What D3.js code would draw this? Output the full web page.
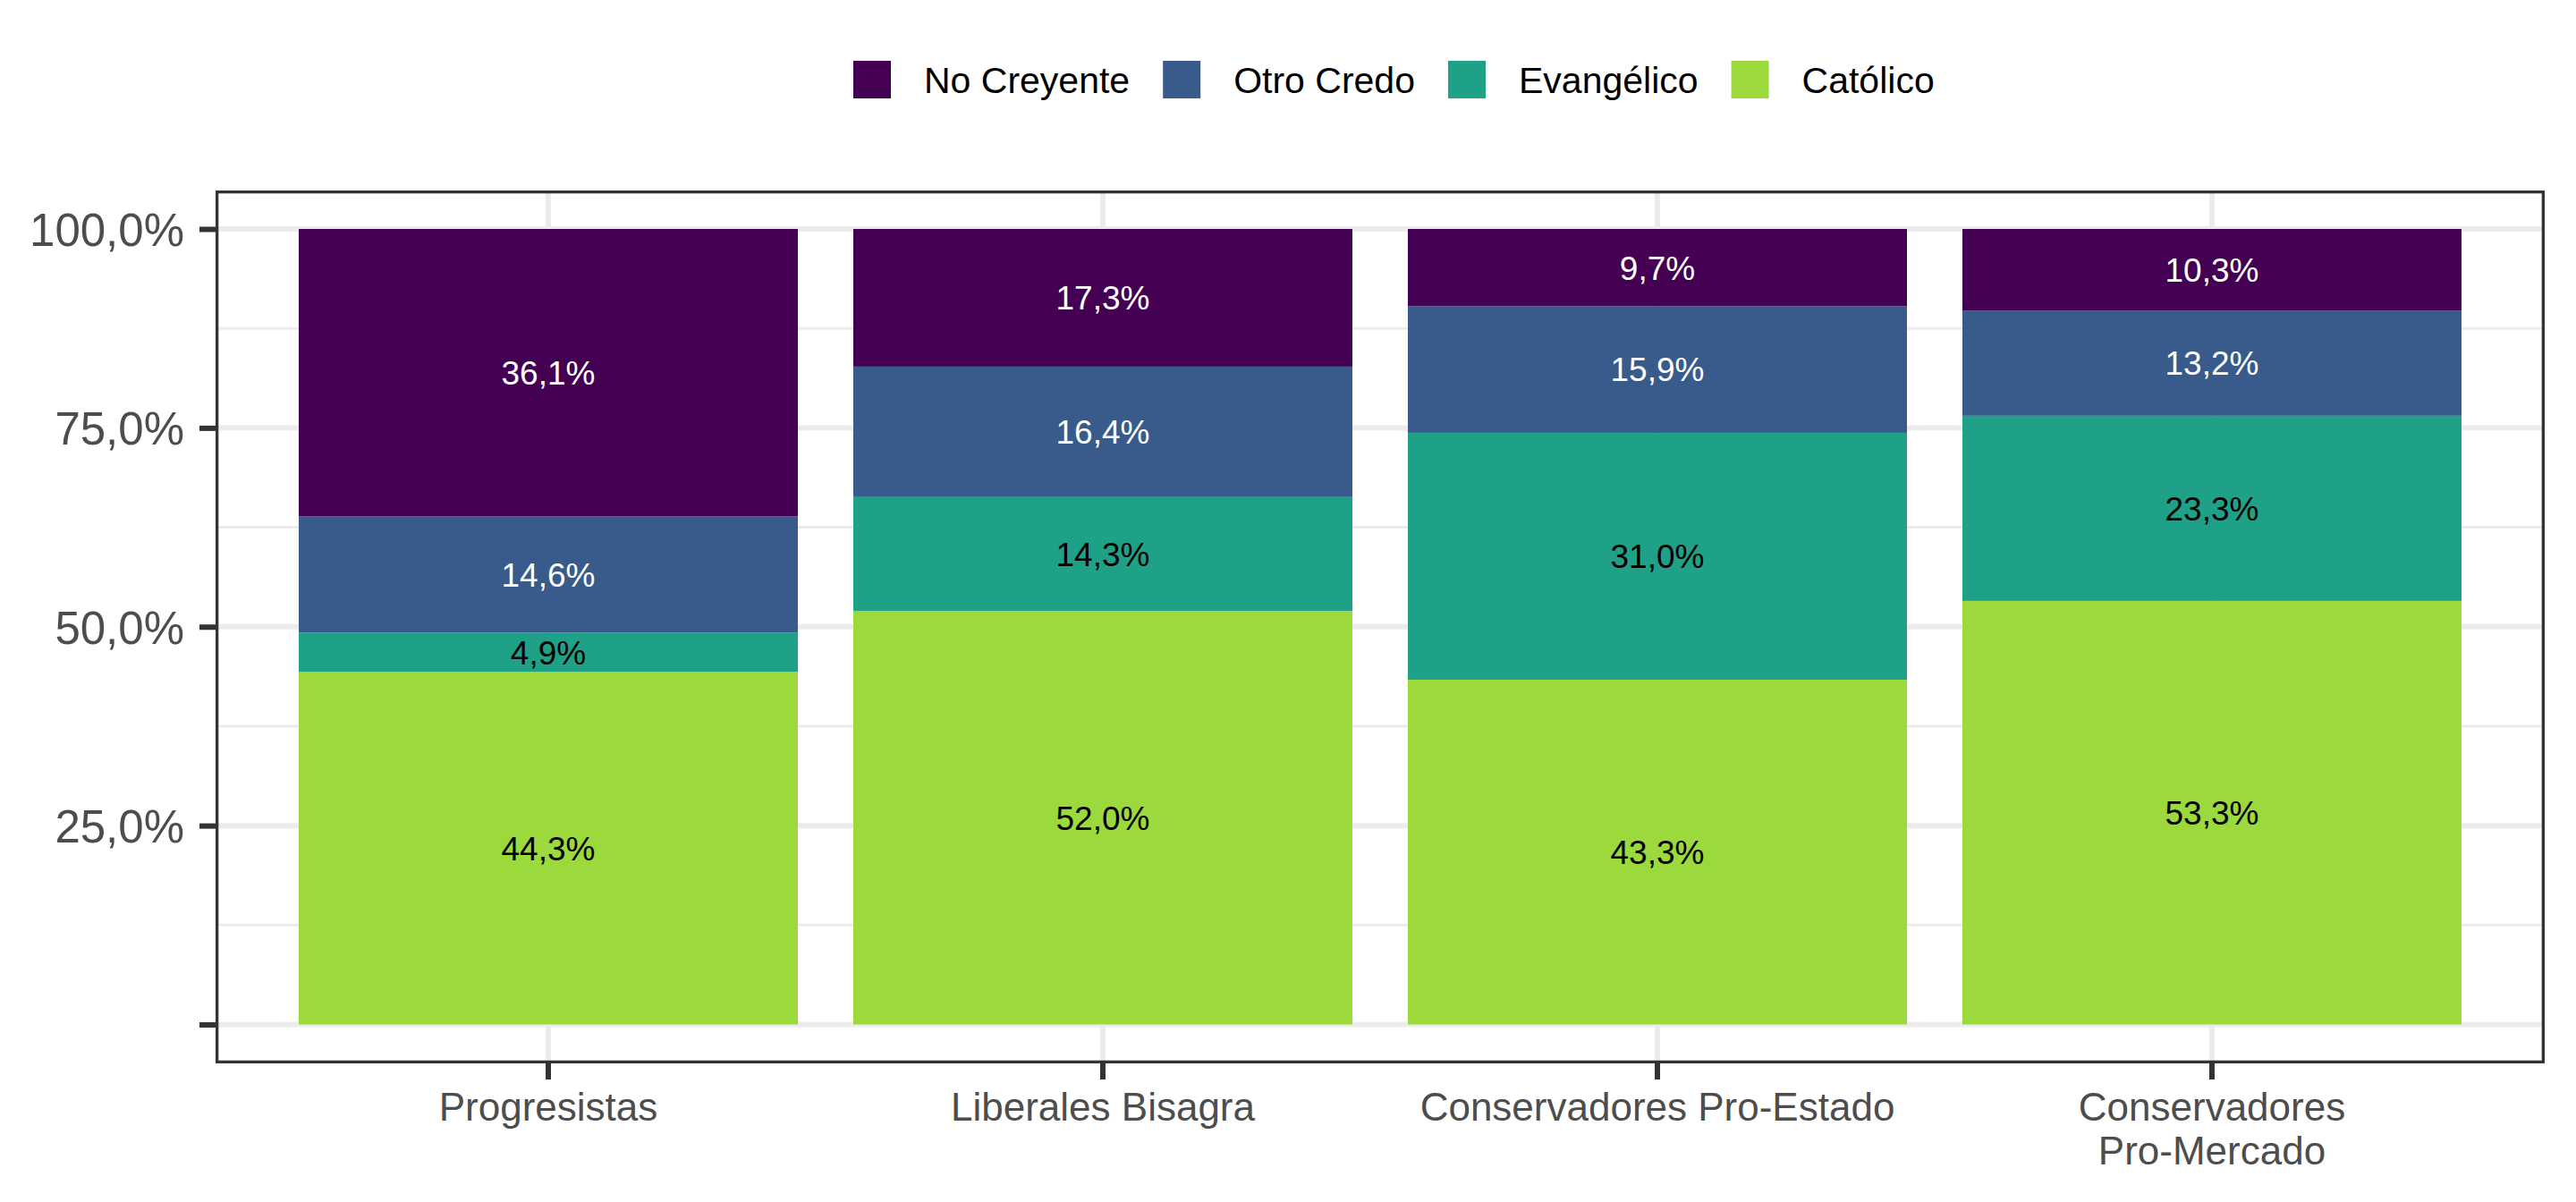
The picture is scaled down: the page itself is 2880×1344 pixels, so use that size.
<!DOCTYPE html>
<html>
<head>
<meta charset="utf-8">
<script src="https://cdn.jsdelivr.net/npm/d3@7"></script>
<style>
  body { margin: 0; background: #fff; }
  text { font-family: "Liberation Sans", Arial, sans-serif; }
</style>
</head>
<body>
<script>

// Data (percent)
var categories = ["Progresistas", "Liberales Bisagra", "Conservadores Pro-Estado", "Conservadores Pro-Mercado"];
var categoryLines = [["Progresistas"], ["Liberales Bisagra"], ["Conservadores Pro-Estado"], ["Conservadores", "Pro-Mercado"]];
var series = ["Católico", "Evangélico", "Otro Credo", "No Creyente"];   // bottom to top
var legendOrder = ["No Creyente", "Otro Credo", "Evangélico", "Católico"];
var catolico   = [44.3, 52.0, 43.3, 53.3];
var evangelico = [4.9, 14.3, 31.0, 23.3];
var otroCredo  = [14.6, 16.4, 15.9, 13.2];
var noCreyente = [36.1, 17.3, 9.7, 10.3];
var yTicks      = [0, 0.25, 0.5, 0.75, 1];
var yTickLabels = ["", "25,0%", "50,0%", "75,0%", "100,0%"];
var yMinor      = [0.125, 0.375, 0.625, 0.875];

var colors = {
    "No Creyente": "#440154",
    "Otro Credo":  "#385B8C",
    "Evangélico":  "#1FA187",
    "Católico":    "#9BD93C"
};
var labelColors = {
    "No Creyente": "#ffffff",
    "Otro Credo":  "#ffffff",
    "Evangélico":  "#000000",
    "Católico":    "#000000"
};

// build rows for the stack
var valuesBySeries = {
    "Católico": catolico,
    "Evangélico": evangelico,
    "Otro Credo": otroCredo,
    "No Creyente": noCreyente
};
var rows = categories.map(function (c, i) {
    var r = { cat: c };
    series.forEach(function (s) { r[s] = valuesBySeries[s][i]; });
    return r;
});

var stacked = d3.stack().keys(series).offset(d3.stackOffsetExpand)(rows);

// Layout
var W = 2880, H = 1344;
var panel = { left: 241, right: 2845, top: 213, bottom: 1189 };

var x = d3.scaleBand()
    .domain(categories)
    .range([panel.left, panel.right])
    .paddingInner(0.1)
    .paddingOuter(0.15);

var y = d3.scaleLinear()
    .domain([0, 1])
    .range([1145.5, 256]);

var locale = d3.formatLocale({ decimal: ",", thousands: ".", grouping: [3], currency: ["", ""] });
var fmt = locale.format(".1f");

var svg = d3.select("body").append("svg")
    .attr("width", W)
    .attr("height", H);

// Grid
var grid = svg.append("g");
grid.selectAll(".minor").data(yMinor).enter().append("line")
    .attr("x1", panel.left).attr("x2", panel.right)
    .attr("y1", function (d) { return y(d); })
    .attr("y2", function (d) { return y(d); })
    .attr("stroke", "#EBEBEB").attr("stroke-width", 3);
grid.selectAll(".major").data(yTicks).enter().append("line")
    .attr("x1", panel.left).attr("x2", panel.right)
    .attr("y1", function (d) { return y(d); })
    .attr("y2", function (d) { return y(d); })
    .attr("stroke", "#EBEBEB").attr("stroke-width", 6);
grid.selectAll(".vmajor").data(categories).enter().append("line")
    .attr("y1", panel.top).attr("y2", panel.bottom)
    .attr("x1", function (d) { return x(d) + x.bandwidth() / 2; })
    .attr("x2", function (d) { return x(d) + x.bandwidth() / 2; })
    .attr("stroke", "#EBEBEB").attr("stroke-width", 6);

// Bars
var layers = svg.append("g").selectAll("g")
    .data(stacked).enter().append("g")
    .attr("fill", function (d) { return colors[d.key]; });

layers.selectAll("rect")
    .data(function (d) { return d; })
    .enter().append("rect")
    .attr("x", function (d) { return x(d.data.cat); })
    .attr("width", x.bandwidth())
    .attr("y", function (d) { return y(d[1]); })
    .attr("height", function (d) { return y(d[0]) - y(d[1]); });

// Labels
var labels = svg.append("g");
stacked.forEach(function (layer) {
    labels.selectAll(null)
        .data(layer).enter().append("text")
        .attr("x", function (d) { return x(d.data.cat) + x.bandwidth() / 2; })
        .attr("y", function (d) { return y((d[0] + d[1]) / 2); })
        .attr("dy", "0.36em")
        .attr("text-anchor", "middle")
        .attr("font-size", 37)
        .attr("fill", labelColors[layer.key])
        .text(function (d) { return fmt(d.data[layer.key]) + "%"; });
});

// Panel border
svg.append("rect")
    .attr("x", panel.left + 1.65).attr("y", panel.top + 1.65)
    .attr("width", panel.right - panel.left - 3.3)
    .attr("height", panel.bottom - panel.top - 3.3)
    .attr("fill", "none")
    .attr("stroke", "#333333")
    .attr("stroke-width", 3.3);

// Axes
var yAxis = svg.append("g")
    .attr("transform", "translate(" + panel.left + ",0)")
    .call(d3.axisLeft(y)
        .tickValues(yTicks)
        .tickSize(18)
        .tickPadding(17)
        .tickFormat(function (d, i) { return yTickLabels[i]; }));
yAxis.select(".domain").remove();
yAxis.selectAll("line").attr("stroke", "#333333").attr("stroke-width", 6);
yAxis.selectAll("text")
    .attr("font-size", 51)
    .attr("font-family", "Liberation Sans, Arial, sans-serif")
    .attr("fill", "#4D4D4D")
    .attr("dy", "0.36em");

var xAxis = svg.append("g")
    .attr("transform", "translate(0," + panel.bottom + ")")
    .call(d3.axisBottom(x).tickSize(18).tickPadding(15));
xAxis.select(".domain").remove();
xAxis.selectAll("line").attr("stroke", "#333333").attr("stroke-width", 6);
xAxis.selectAll("text")
    .attr("font-size", 44)
    .attr("font-family", "Liberation Sans, Arial, sans-serif")
    .attr("fill", "#4D4D4D")
    .each(function (d, i) {
        var t = d3.select(this);
        t.text(null);
        categoryLines[i].forEach(function (line, j) {
            t.append("tspan")
                .attr("x", 0)
                .attr("dy", j === 0 ? "0.71em" : "49px")
                .text(line);
        });
    });
xAxis.selectAll("text").attr("dy", null);

// Legend
var legend = svg.append("g").attr("transform", "translate(954,89)");
var lx = 0;
legendOrder.forEach(function (name) {
    var g = legend.append("g").attr("transform", "translate(" + lx + ",0)");
    g.append("rect")
        .attr("x", 0).attr("y", -21)
        .attr("width", 42).attr("height", 42)
        .attr("fill", colors[name]);
    var t = g.append("text")
        .attr("x", 79).attr("y", 0)
        .attr("dy", "0.36em")
        .attr("font-size", 41)
        .attr("fill", "#000")
        .text(name);
    lx += 79 + t.node().getComputedTextLength() + 37;
});

</script>
</body>
</html>
